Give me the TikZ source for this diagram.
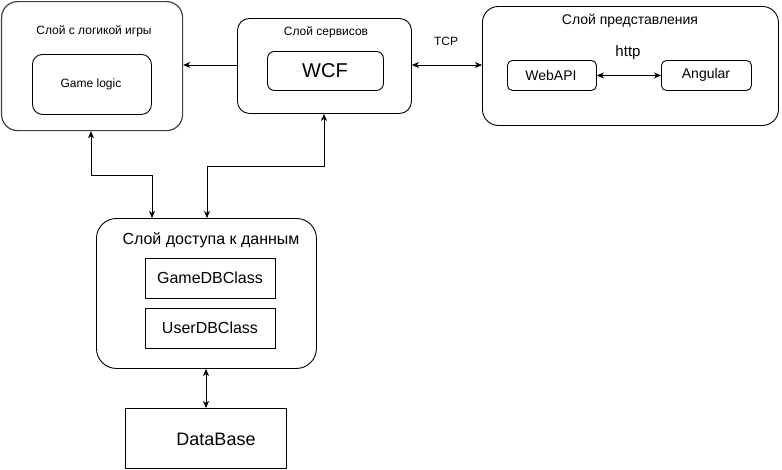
\documentclass[tikz,border=0pt]{standalone}
\usepackage{fontspec}
\setmainfont{Liberation Sans}
\usetikzlibrary{arrows.meta}
\begin{document}
\begin{tikzpicture}[x=1pt,y=-1pt,
  box/.style={draw=black,line width=0.9pt,inner sep=0pt,anchor=north west,rounded corners=#1},
  box/.default=0pt,
  lbl/.style={inner sep=0pt,anchor=center},
  conn/.style={line width=0.9pt,{Stealth[length=7pt,width=6pt,inset=2pt]}-{Stealth[length=7pt,width=6pt,inset=2pt]}},
  conn1/.style={line width=0.9pt,-{Stealth[length=7pt,width=6pt,inset=2pt]}}]
\useasboundingbox (0,0) rectangle (782,469);
% Game layer
\node[box=16pt,draw=black!75,line width=1.2pt,minimum width=181pt,minimum height=129pt] (game) at (1,1) {};
\node[lbl,font=\fontsize{12}{14}\selectfont] (gameT) at (94,31) {Слой с логикой игры};
\node[box=10pt,minimum width=119pt,minimum height=60pt] (gl) at (32,54) {};
\node[lbl,font=\fontsize{12}{14}\selectfont] (glT) at (91,84) {Game logic};
% Services
\node[box=12pt,minimum width=174pt,minimum height=95pt] (srv) at (237,18) {};
\node[lbl,font=\fontsize{12}{14}\selectfont] (srvT) at (326,32) {Слой сервисов};
\node[box=7pt,minimum width=116pt,minimum height=39pt] (wcf) at (267,51) {};
\node[lbl,font=\fontsize{20}{24}\selectfont] (wcfT) at (325,71) {WCF};
% Presentation
\node[box=16pt,minimum width=296pt,minimum height=119pt] (pres) at (482,6) {};
\node[lbl,font=\fontsize{14}{16}\selectfont] (presT) at (630,21) {Слой представления};
\node[box=5pt,minimum width=89pt,minimum height=30pt] (web) at (507,60) {};
\node[lbl,font=\fontsize{14}{16}\selectfont] (webT) at (551,75) {WebAPI};
\node[box=5pt,minimum width=90pt,minimum height=30pt] (ang) at (661,60) {};
\node[lbl,font=\fontsize{14}{16}\selectfont] (angT) at (706,75) {Angular};
\node[lbl,font=\fontsize{15}{18}\selectfont] (http) at (628,53) {http};
\node[lbl,font=\fontsize{12}{14}\selectfont] (tcp) at (446,41) {TCP};
% Data layer
\node[box=20pt,minimum width=220pt,minimum height=150pt] (dal) at (96,218) {};
\node[lbl,font=\fontsize{16}{19}\selectfont] (dalT) at (211,240) {Слой доступа к данным};
\node[box,minimum width=130pt,minimum height=40pt] (gdb) at (145,258) {};
\node[lbl,font=\fontsize{16}{19}\selectfont] (gdbT) at (210,278) {GameDBClass};
\node[box,minimum width=130pt,minimum height=40pt] (udb) at (145,308) {};
\node[lbl,font=\fontsize{16}{19}\selectfont] (udbT) at (210,328) {UserDBClass};
% Database
\node[box,minimum width=161pt,minimum height=60pt] (db) at (125,408) {};
\node[lbl,font=\fontsize{18}{21}\selectfont] (dbT) at (216,439) {DataBase};
% connectors
\draw[conn1] (srv.west |- 0,65) -- (game.east |- 0,65);
\draw[conn] (srv.east |- 0,65) -- (pres.west |- 0,65);
\draw[conn] (web.east) -- (ang.west);
\draw[conn] (game.south -| 91,0) -- (91,175) -- (152,175) -- (dal.north -| 152,0);
\draw[conn] (srv.south -| 324,0) -- (324,166) -- (207,166) -- (dal.north -| 207,0);
\draw[conn] (dal.south -| 206,0) -- (db.north -| 206,0);
\end{tikzpicture}
\end{document}
